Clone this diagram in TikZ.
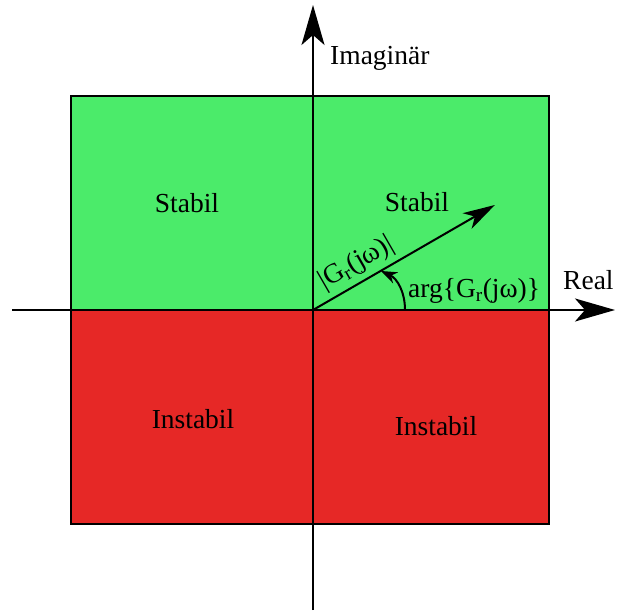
\documentclass[tikz,border=0pt]{standalone}
\usepackage{fontspec}
\setmainfont{Liberation Serif}
\usepackage{tikz}
\usetikzlibrary{arrows.meta,positioning,calc}
\definecolor{stabgreen}{RGB}{75,235,106}
\definecolor{instred}{RGB}{230,40,38}

\begin{document}
\begin{tikzpicture}[x=1pt,y=1pt,
    axis/.style={line width=2pt,-{Stealth[length=40pt,width=23pt,inset=10pt]}},
    vect/.style={line width=2pt,-{Stealth[length=32pt,width=18pt,inset=9pt]}},
    anglearc/.style={line width=2pt,-{Stealth[length=16pt,width=12pt,inset=5pt]}},
    lbl/.style={font=\fontsize{27.5}{30}\selectfont,inner sep=0pt}]
  \useasboundingbox (0,0) rectangle (617,610);
  % quadrants
  \fill[stabgreen] (71,300) rectangle (549,514);
  \fill[instred]   (71,86)  rectangle (549,300);
  \draw[line width=2pt] (71,86) rectangle (549,514);
  \coordinate (o)  at (313,300);
  \coordinate (xl) at (12,300);
  \coordinate (xr) at (615,300);
  \coordinate (yb) at (313,0);
  \coordinate (yt) at (313,605);
  \coordinate (tip) at ($(o)+(30:210)$);
  \coordinate (arcstart) at (405,300);
  \coordinate (arcend)   at (381,339);
  % axes
  \draw[axis] (xl) -- (xr);
  \draw[axis] (yb) -- (yt);
  \node[lbl,anchor=base west] (imlbl) at (330,545) {Imaginär};
  \node[lbl,anchor=base west] (relbl) at (563,320) {Real};
  % vector and angle
  \draw[vect] (o) -- (tip)
    node[lbl,pos=0.29,sloped,above=5pt] (betrag) {|G\textsubscript{r}(jω)|};
  \draw[anglearc] (arcstart) to[out=90,in=-25] (arcend);
  \node[lbl,anchor=base west] (arglbl) at (408,312) {arg\{G\textsubscript{r}(jω)\}};
  % regions
  \node[lbl,anchor=base] (stab1) at (187,397) {Stabil};
  \node[lbl,anchor=base] (stab2) at (417,398) {Stabil};
  \node[lbl,anchor=base] (inst1) at (193,182) {Instabil};
  \node[lbl,anchor=base] (inst2) at (436,175) {Instabil};
\end{tikzpicture}
\end{document}
